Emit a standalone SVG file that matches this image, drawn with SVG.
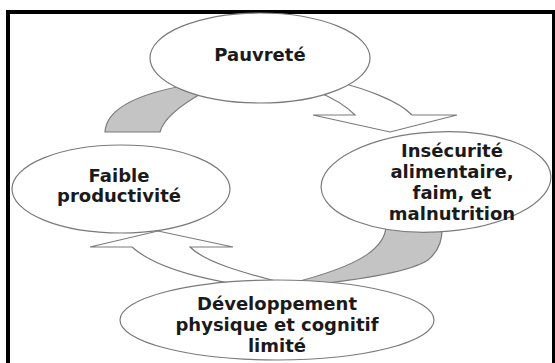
<svg xmlns="http://www.w3.org/2000/svg" width="555" height="363" viewBox="0 0 555 363">
  <style>
    .node ellipse { fill: #ffffff; stroke: #7a7a7a; stroke-width: 1.2; }
    .node text { font-family: "DejaVu Sans", Verdana, sans-serif; font-weight: bold; font-size: 18px; fill: #1a1a1a; text-anchor: middle; }
    .rib-white { fill: #ffffff; stroke: #7a7a7a; stroke-width: 1.2; stroke-linejoin: miter; }
    .rib-gray { fill: #c4c4c4; stroke: #7a7a7a; stroke-width: 1.2; }
  </style>
  <rect x="0" y="0" width="555" height="363" fill="#ffffff"/>
  <path d="M8,372 L8,12 L554,12 L554,372" fill="none" stroke="#000000" stroke-width="4"/>

  <g id="connectors">
    <!-- Faible -> (behind Pauvreté) -> Insécurité -->
    <path class="rib-gray" d="M105,132 C106,112 130,96 182,86 L210,86 L204,92 C186,102 164,117 160,132 Z"/>
    <path class="rib-white" d="M338,82 C362,88 398,100 412,115 L457,115 L390,132 L313,115 L355,115 C345,105 333,98 318,92 Z"/>
    <!-- Insécurité -> (behind Développement) -> Faible -->
    <path class="rib-gray" d="M386,222 C388,246 365,265 288,284 L300,286 C360,280 410,272 428,260 C440,250 443,238 442,222 Z"/>
    <path class="rib-white" d="M190,247 C205,262 240,272 290,285 L280,291 C220,283 160,272 132,247 L90,247 L158,231 L233,247 Z"/>
  </g>

  <g id="node-pauvrete" class="node">
    <ellipse cx="260" cy="58" rx="110" ry="45"/>
    <text x="260" y="61">Pauvreté</text>
  </g>
  <g id="node-insecurite" class="node">
    <ellipse cx="436" cy="182" rx="115" ry="50" transform="rotate(-3 436 182)"/>
    <text x="452" y="157">Insécurité</text>
    <text x="452" y="178">alimentaire,</text>
    <text x="452" y="199">faim, et</text>
    <text x="452" y="220">malnutrition</text>
  </g>
  <g id="node-faible" class="node">
    <ellipse cx="121" cy="189" rx="109" ry="44"/>
    <text x="119" y="182">Faible</text>
    <text x="119" y="202">productivité</text>
  </g>
  <g id="node-developpement" class="node">
    <ellipse cx="277" cy="320" rx="157" ry="40"/>
    <text x="277" y="310">Développement</text>
    <text x="277" y="331">physique et cognitif</text>
    <text x="277" y="352">limité</text>
  </g>
</svg>
